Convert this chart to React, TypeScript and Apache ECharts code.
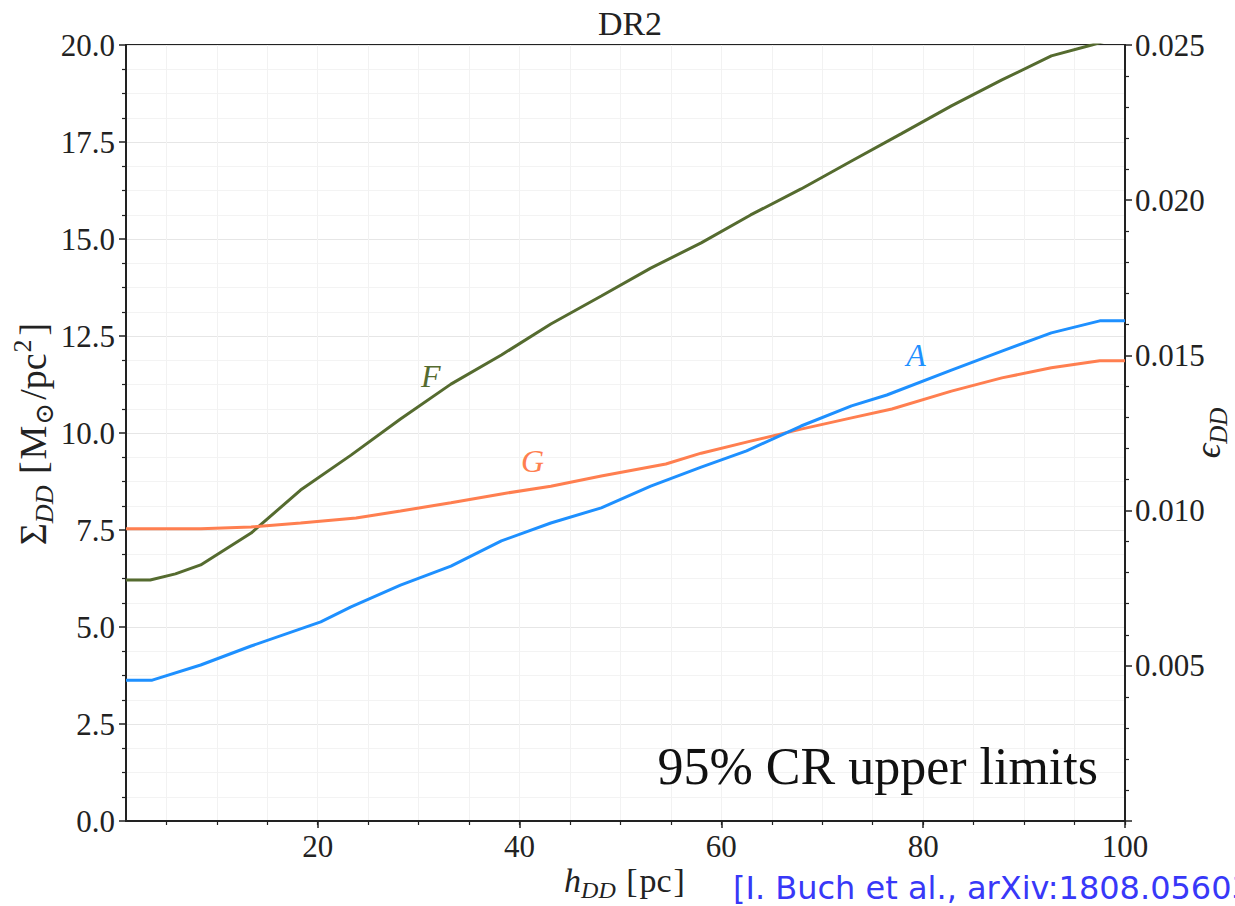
import React, { useEffect, useRef } from "react";
import * as echarts from "echarts";

const SERIF = "'Liberation Serif', 'DejaVu Serif', serif";
const SANS = "'DejaVu Sans', sans-serif";
const INK = "#222222";

// h_DD [pc] and Sigma_DD [Msun/pc^2]
const hA = [1, 3.6, 8.4, 13.4, 20.3, 23.3, 28.2, 33.2, 38.2, 43.1, 48.1, 53.0, 58.0, 62.5, 67.9, 72.9, 76.4, 82.8, 87.8, 92.7, 97.5, 100];
const sigmaA = [3.63, 3.63, 4.02, 4.51, 5.13, 5.52, 6.08, 6.57, 7.22, 7.68, 8.07, 8.63, 9.12, 9.54, 10.18, 10.7, 10.98, 11.62, 12.11, 12.58, 12.89, 12.89];

const hG = [1, 8.4, 13.4, 18.3, 23.8, 28.2, 33.2, 38.2, 43.1, 48.1, 54.5, 58.0, 62.9, 67.9, 72.9, 76.9, 82.8, 87.8, 92.7, 97.5, 100];
const sigmaG = [7.53, 7.53, 7.58, 7.68, 7.81, 7.99, 8.2, 8.43, 8.63, 8.89, 9.2, 9.48, 9.79, 10.1, 10.39, 10.62, 11.08, 11.42, 11.68, 11.86, 11.86];

const hF = [1, 3.4, 5.9, 8.4, 13.4, 18.3, 23.3, 28.2, 33.2, 38.2, 43.1, 48.1, 53.0, 58.0, 62.9, 67.9, 72.9, 77.8, 82.8, 87.8, 92.7, 96.7, 100];
const sigmaF = [6.21, 6.21, 6.37, 6.6, 7.42, 8.53, 9.43, 10.36, 11.26, 12.01, 12.81, 13.53, 14.25, 14.9, 15.62, 16.29, 17.01, 17.71, 18.43, 19.1, 19.72, 20.0, 20.25];

const xMajorTicks = [20, 40, 60, 80, 100];
const xMinorTicks = [5, 10, 15, 20, 25, 30, 35, 40, 45, 50, 55, 60, 65, 70, 75, 80, 85, 90, 95, 100];

// curve-label anchor positions (h, Sigma)
const labelF = [31.2, 11.47];
const labelG = [41.3, 9.28];
const labelA = [79.3, 12.01];

const zip = (xs: number[], ys: number[]) => xs.map((x, i) => [x, ys[i]]);

const mkRich = (main: number, sub: number) => ({
  n: { fontFamily: SERIF, fontSize: main, color: INK, lineHeight: main + 10 },
  i: { fontFamily: SERIF, fontStyle: "italic", fontSize: main, color: INK, lineHeight: main + 10 },
  s: { fontFamily: SERIF, fontStyle: "italic", fontSize: sub, color: INK, lineHeight: sub, verticalAlign: "bottom" },
  sn: { fontFamily: SERIF, fontSize: sub, color: INK, lineHeight: sub, verticalAlign: "bottom", padding: [0, 3, 0, 1] },
  sup: { fontFamily: SERIF, fontSize: sub, color: INK, lineHeight: sub, verticalAlign: "top", padding: [0, 2, 0, 1] },
  b: { fontFamily: SERIF, fontSize: main, color: INK, lineHeight: main + 10, padding: [0, 2] },
});

function lineSeries(name: string, xs: number[], ys: number[], color: string, label: string, at: number[]) {
  return {
    type: "line",
    name,
    data: zip(xs, ys),
    showSymbol: false,
    symbol: "none",
    clip: true,
    lineStyle: { color, width: 3 },
    itemStyle: { color },
    z: 5,
    markPoint: {
      symbol: "circle",
      symbolSize: 1,
      silent: true,
      itemStyle: { color: "transparent" },
      label: {
        show: true,
        position: "inside",
        formatter: label,
        fontFamily: SERIF,
        fontStyle: "italic",
        fontSize: 32,
        color,
      },
      data: [{ coord: at }],
    },
  };
}

export default function App() {
  const ref = useRef<HTMLDivElement>(null);
  useEffect(() => {
    if (!ref.current) return;
    const chart = echarts.init(ref.current, undefined, { renderer: "svg" });
    const option: any = {
      animation: false,
      backgroundColor: "#ffffff",
      title: {
        text: "DR2",
        left: 625,
        textAlign: "center",
        top: 1,
        textStyle: { fontFamily: SERIF, fontSize: 34, fontWeight: "normal", color: INK },
      },
      grid: {
        left: 126,
        right: 110,
        top: 45,
        bottom: 85,
        show: true,
        borderColor: INK,
        borderWidth: 2,
        backgroundColor: "transparent",
        containLabel: false,
        outerBoundsMode: "none",
      },
      xAxis: [
        {
          type: "value",
          min: 1,
          max: 100,
          position: "bottom",
          name: "{i|h}{s|DD}{n| }{b|[}{n|pc}{b|]}",
          nameLocation: "middle",
          nameGap: 37,
          nameMoveOverlap: false,
          nameTextStyle: { rich: mkRich(34, 24) },
          axisLine: { show: true, lineStyle: { color: INK, width: 2 } },
          axisTick: { show: true, customValues: xMajorTicks, length: 7, lineStyle: { color: INK, width: 1.5 } },
          axisLabel: { customValues: xMajorTicks, fontFamily: SERIF, fontSize: 31, color: INK, margin: 10 },
          splitLine: { show: true, lineStyle: { color: "#e6e6e6", width: 1 } },
        },
        {
          type: "value",
          min: 1,
          max: 100,
          position: "bottom",
          axisLine: { show: false },
          axisTick: { show: true, customValues: xMinorTicks, length: 4, lineStyle: { color: INK, width: 1.2 } },
          axisLabel: { show: false },
          splitLine: { show: true, lineStyle: { color: "#f2f2f2", width: 1 } },
        },
      ],
      yAxis: [
        {
          type: "value",
          min: 0,
          max: 20,
          interval: 2.5,
          position: "left",
          name: "{n|Σ}{s|DD}{n| }{b|[}{n|M}{sn|⊙}{n|/pc}{sup|2}{b|]}",
          nameLocation: "middle",
          nameRotate: 90,
          nameGap: 69,
          nameMoveOverlap: false,
          nameTextStyle: { rich: mkRich(38, 26) },
          axisLine: { show: true, lineStyle: { color: INK, width: 2 } },
          axisTick: { show: true, length: 7, lineStyle: { color: INK, width: 1.5 } },
          minorTick: { show: true, splitNumber: 4, length: 4, lineStyle: { color: INK, width: 1.2 } },
          axisLabel: {
            fontFamily: SERIF,
            fontSize: 31,
            color: INK,
            margin: 11,
            formatter: (v: number) => v.toFixed(1),
          },
          splitLine: { show: true, lineStyle: { color: "#e6e6e6", width: 1 } },
          minorSplitLine: { show: true, lineStyle: { color: "#f3f3f3", width: 1 } },
        },
        {
          type: "value",
          min: 0,
          max: 0.025,
          interval: 0.005,
          position: "right",
          name: "{i|ϵ}{s|DD}",
          nameLocation: "middle",
          nameRotate: 90,
          nameGap: 60,
          nameMoveOverlap: false,
          nameTextStyle: { rich: mkRich(36, 25) },
          axisLine: { show: true, lineStyle: { color: INK, width: 2 } },
          axisTick: { show: true, length: 7, lineStyle: { color: INK, width: 1.5 } },
          minorTick: { show: true, splitNumber: 5, length: 4, lineStyle: { color: INK, width: 1.2 } },
          axisLabel: {
            fontFamily: SERIF,
            fontSize: 31,
            color: INK,
            margin: 10,
            formatter: (v: number) => (v === 0 ? "" : v.toFixed(3)),
          },
          splitLine: { show: false },
        },
      ],
      series: [
        lineSeries("F", hF, sigmaF, "#556b2f", "F", labelF),
        lineSeries("G", hG, sigmaG, "#ff7f50", "G", labelG),
        lineSeries("A", hA, sigmaA, "#1e90ff", "A", labelA),
      ],
      graphic: [
        {
          type: "text",
          right: 137,
          top: 740,
          style: { text: "95% CR upper limits", font: `52px ${SERIF}`, fill: "#111111" },
          z: 10,
        },
        {
          type: "text",
          left: 733,
          top: 872,
          style: { text: "[I. Buch et al., arXiv:1808.05603]", font: `32px ${SANS}`, fill: "#3838f8" },
          z: 10,
        },
      ],
    };
    chart.setOption(option);
    return () => chart.dispose();
  }, []);
  return (
    <div
      ref={ref}
      style={{ position: "absolute", left: 0, top: 0, width: 1235, height: 906, overflow: "hidden" }}
    />
  );
}
